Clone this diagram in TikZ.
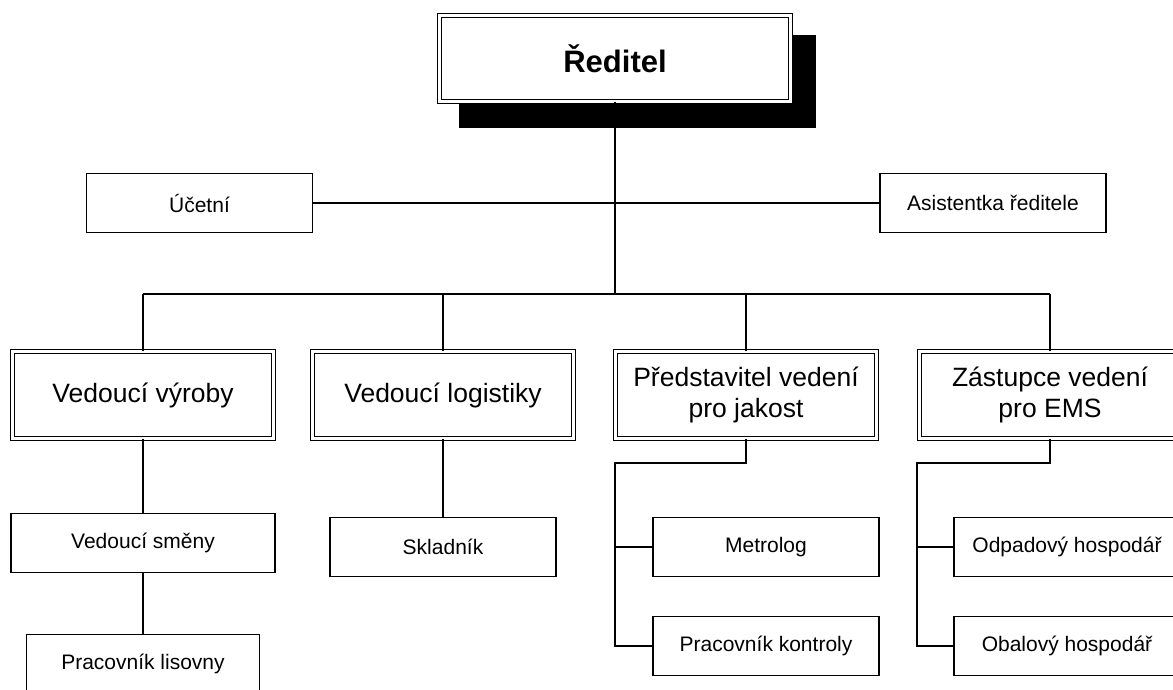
\documentclass[tikz,border=0pt]{standalone}
\usepackage{fontspec}
\setmainfont{Liberation Sans}

\begin{document}
\begin{tikzpicture}[x=1pt,y=-1pt,
    box/.style={draw, line width=1.7pt, fill=white, minimum width=226pt,
      minimum height=59pt, inner sep=2pt, font=\fontsize{21}{24}\selectfont},
    headbox/.style={draw, line width=1.2pt, double, double distance=3pt,
      fill=white, minimum width=260.6pt, minimum height=86.6pt, inner sep=2pt,
      align=center, font=\fontsize{26.5}{31}\selectfont},
    link/.style={line width=1.7pt}]
    \clip (0,0) rectangle (1173,690);
% director with black shadow
    \node[fill=black, minimum width=357pt, minimum height=93pt, inner sep=0pt] (stin) at (637.5,81.5) {};
    \node[headbox, minimum width=350.6pt, minimum height=85.6pt,
      font=\fontsize{31}{36}\selectfont\bfseries] (reditel) at (615,58.5) {Ředitel};
% staff boxes
    \node[box] (ucetni) at (199.5,203) {Účetní};
    \node[box] (asistentka) at (993,203) {Asistentka ředitele};
% heads of departments
    \node[headbox] (vyroba)    at (143,395)  {Vedoucí výroby};
    \node[headbox] (logistika) at (443,395)  {Vedoucí logistiky};
    \node[headbox] (jakost)    at (746,395)  {Představitel vedení\\pro jakost};
    \node[headbox] (ems)       at (1050,395) {Zástupce vedení\\pro EMS};
% lower level
    \node[box, minimum width=264pt] (smena) at (143,543) {Vedoucí směny};
    \node[box, minimum width=233pt] (lisovna) at (143,664) {Pracovník lisovny};
    \node[box] (skladnik) at (443,547) {Skladník};
    \node[box] (metrolog) at (766,547) {Metrolog};
    \node[box] (kontrola) at (766,646) {Pracovník kontroly};
    \node[box] (odpad) at (1067,547) {Odpadový hospodář};
    \node[box] (obal)  at (1067,646) {Obalový hospodář};
% connectors
    \coordinate (bus) at (616,294);
    \coordinate (jk) at (615,463);
    \coordinate (ek) at (917,463);
    \draw[link] (reditel.south) -- (reditel.south |- bus);
    \draw[link] (ucetni.east) -- (asistentka.west);
    \draw[link] (vyroba.north |- bus) -- (ems.north |- bus);
    \foreach \n in {vyroba,logistika,jakost,ems}
      \draw[link] (\n.north) -- (\n.north |- bus);
    \draw[link] (vyroba.south) -- (smena.north);
    \draw[link] (smena.south) -- (lisovna.north);
    \draw[link] (logistika.south) -- (skladnik.north);
    \draw[link] (jakost.south) |- (jk) |- (kontrola.west);
    \draw[link] (jk |- metrolog.west) -- (metrolog.west);
    \draw[link] (ems.south) |- (ek) |- (obal.west);
    \draw[link] (ek |- odpad.west) -- (odpad.west);
\end{tikzpicture}
\end{document}
